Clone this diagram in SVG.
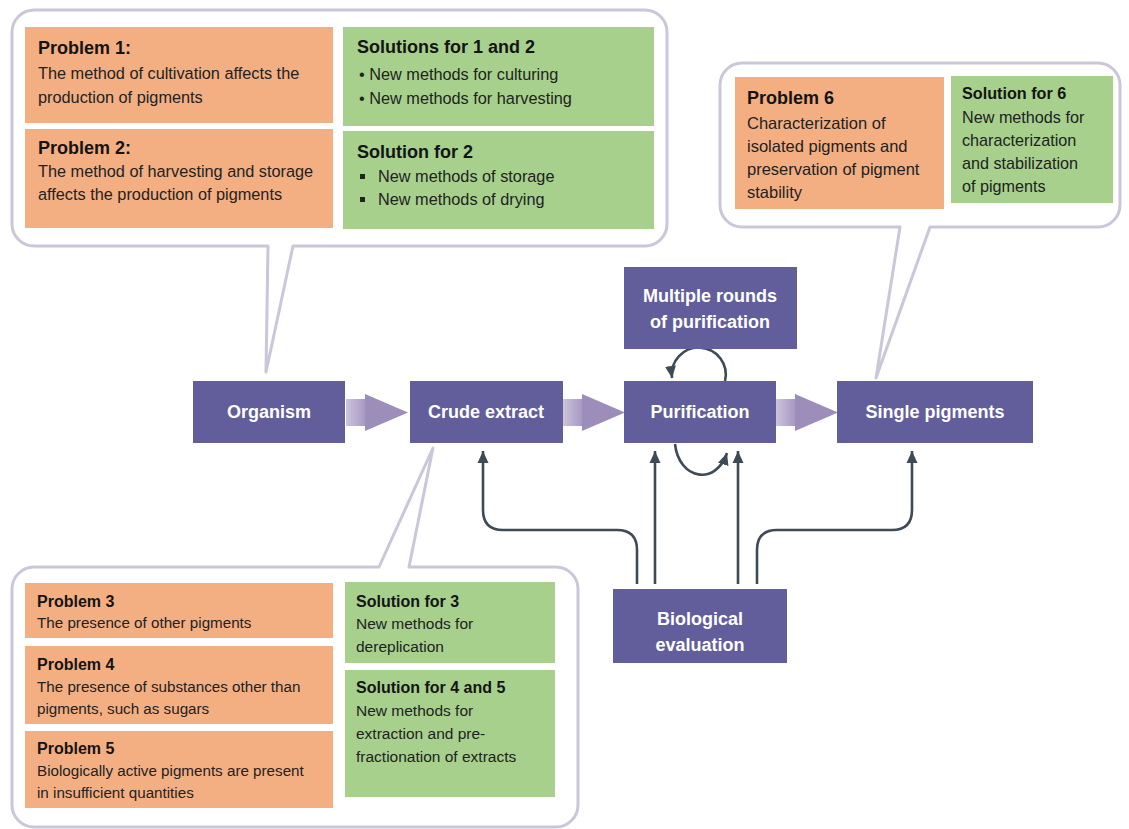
<svg xmlns="http://www.w3.org/2000/svg" width="1129" height="829" viewBox="0 0 1129 829">
  <style>
    .bubble { fill: #ffffff; stroke: #c9c7da; stroke-width: 3; stroke-linejoin: round; }
    .prob { fill: #f3af82; }
    .sol { fill: #a7d08d; }
    .node { fill: #625e9b; }
    .nodetxt { font-family: "Liberation Sans", Arial, sans-serif; font-weight: bold; font-size: 18px; fill: #ffffff; text-anchor: middle; }
    .ttl { font-family: "Liberation Sans", Arial, sans-serif; font-weight: bold; fill: #141414; }
    .body { font-family: "Liberation Sans", Arial, sans-serif; fill: #222222; }
    .link { fill: none; stroke: #3e4a56; stroke-width: 2.6; }
  </style>
  <defs>
    <linearGradient id="shaft" x1="0" y1="0" x2="1" y2="0">
      <stop offset="0" stop-color="#cdc4dc"/>
      <stop offset="1" stop-color="#a395c0"/>
    </linearGradient>
    <marker id="head" markerUnits="userSpaceOnUse" markerWidth="14" markerHeight="14" viewBox="0 0 14 14" refX="12" refY="7" orient="auto">
      <path d="M0,1.5 L12,7 L0,12.5 Z" fill="#3e4a56"/>
    </marker>
    <!-- broad flow arrow: faded shaft plus solid head, 62 units long -->
    <g id="fat">
      <rect x="0" y="19" width="21" height="27" fill="url(#shaft)"/>
      <path d="M19,14 L62,32.5 L19,51 Z" fill="#9d8dba"/>
    </g>
  </defs>

  <rect width="1129" height="829" fill="#ffffff"/>

  <!-- speech bubbles -->
  <path class="bubble" d="M34,10 H645 A22,22 0 0 1 667,32 V224 A22,22 0 0 1 645,246 H293 L266,372 L268,246 H34 A22,22 0 0 1 12,224 V32 A22,22 0 0 1 34,10 Z"/>
  <path class="bubble" d="M742,63 H1098 A22,22 0 0 1 1120,85 V205 A22,22 0 0 1 1098,227 H930 L876,378 L900,227 H742 A22,22 0 0 1 720,205 V85 A22,22 0 0 1 742,63 Z"/>
  <path class="bubble" d="M34,567 H379 L433,448 L409,567 H556 A22,22 0 0 1 578,589 V805 A22,22 0 0 1 556,827 H34 A22,22 0 0 1 12,805 V589 A22,22 0 0 1 34,567 Z"/>

  <!-- cultivation / harvesting panel -->
  <g id="problem1">
    <rect class="prob" x="25" y="27" width="308" height="96"/>
    <text class="ttl" x="38" y="54" font-size="18">Problem 1:</text>
    <text class="body" x="38" y="79" font-size="16.3">The method of cultivation affects the</text>
    <text class="body" x="38" y="103" font-size="16.3">production of pigments</text>
  </g>
  <g id="problem2">
    <rect class="prob" x="25" y="129" width="308" height="99"/>
    <text class="ttl" x="38" y="154" font-size="18">Problem 2:</text>
    <text class="body" x="38" y="177" font-size="16.3">The method of harvesting and storage</text>
    <text class="body" x="38" y="200" font-size="16.3">affects the production of pigments</text>
  </g>
  <g id="solution12">
    <rect class="sol" x="343" y="27" width="311" height="99"/>
    <text class="ttl" x="357" y="53" font-size="18">Solutions for 1 and 2</text>
    <text class="body" x="359" y="80" font-size="16.3">• New methods for culturing</text>
    <text class="body" x="359" y="104" font-size="16.3">• New methods for harvesting</text>
  </g>
  <g id="solution2">
    <rect class="sol" x="343" y="131" width="311" height="98"/>
    <text class="ttl" x="357" y="158" font-size="18">Solution for 2</text>
    <rect x="360" y="174" width="5" height="5" fill="#222222"/>
    <text class="body" x="378" y="182" font-size="16.3">New methods of storage</text>
    <rect x="360" y="197" width="5" height="5" fill="#222222"/>
    <text class="body" x="378" y="205" font-size="16.3">New methods of  drying</text>
  </g>

  <!-- characterization panel -->
  <g id="problem6">
    <rect class="prob" x="735" y="77" width="209" height="132"/>
    <text class="ttl" x="747" y="104" font-size="18">Problem 6</text>
    <text class="body" x="747" y="129" font-size="16.5">Characterization of</text>
    <text class="body" x="747" y="152" font-size="16.5">isolated pigments and</text>
    <text class="body" x="747" y="175" font-size="16.5">preservation of pigment</text>
    <text class="body" x="747" y="198" font-size="16.5">stability</text>
  </g>
  <g id="solution6">
    <rect class="sol" x="951" y="76" width="162" height="127"/>
    <text class="ttl" x="962" y="99" font-size="16.2">Solution for 6</text>
    <text class="body" x="962" y="123" font-size="16.2">New methods for</text>
    <text class="body" x="962" y="146" font-size="16.2">characterization</text>
    <text class="body" x="962" y="169" font-size="16.2">and stabilization</text>
    <text class="body" x="962" y="192" font-size="16.2">of pigments</text>
  </g>

  <!-- extract panel -->
  <g id="problem3">
    <rect class="prob" x="25" y="583" width="308" height="55"/>
    <text class="ttl" x="37" y="607" font-size="16">Problem 3</text>
    <text class="body" x="37" y="628" font-size="15.2">The presence of other pigments</text>
  </g>
  <g id="problem4">
    <rect class="prob" x="25" y="646" width="308" height="78"/>
    <text class="ttl" x="37" y="670" font-size="16">Problem 4</text>
    <text class="body" x="37" y="692" font-size="15.2">The presence of substances other than</text>
    <text class="body" x="37" y="714" font-size="15.2">pigments, such as sugars</text>
  </g>
  <g id="problem5">
    <rect class="prob" x="25" y="731" width="308" height="77"/>
    <text class="ttl" x="37" y="754" font-size="16">Problem 5</text>
    <text class="body" x="37" y="776" font-size="15.2">Biologically active pigments are present</text>
    <text class="body" x="37" y="798" font-size="15.2">in insufficient quantities</text>
  </g>
  <g id="solution3">
    <rect class="sol" x="345" y="582" width="210" height="81"/>
    <text class="ttl" x="356" y="607" font-size="16">Solution for 3</text>
    <text class="body" x="356" y="629" font-size="15.5">New methods for</text>
    <text class="body" x="356" y="652" font-size="15.5">dereplication</text>
  </g>
  <g id="solution45">
    <rect class="sol" x="345" y="670" width="210" height="127"/>
    <text class="ttl" x="356" y="693" font-size="16">Solution for 4 and 5</text>
    <text class="body" x="356" y="716" font-size="15.5">New methods for</text>
    <text class="body" x="356" y="739" font-size="15.5">extraction and pre-</text>
    <text class="body" x="356" y="762" font-size="15.5">fractionation of extracts</text>
  </g>

  <!-- process flow -->
  <g id="connectors">
    <use href="#fat" x="346" y="380"/>
    <use href="#fat" x="563" y="380"/>
    <use href="#fat" x="776" y="380"/>
    <path class="link" d="M725,381 A27,27 0 1 0 672,378" marker-end="url(#head)"/>
    <path class="link" d="M675,444 C679,480 716,486 727,453" marker-end="url(#head)"/>
    <path class="link" d="M637,584 V550 Q637,530 617,530 H503 Q483,530 483,510 V451" marker-end="url(#head)"/>
    <path class="link" d="M655,584 V451" marker-end="url(#head)"/>
    <path class="link" d="M738,584 V451" marker-end="url(#head)"/>
    <path class="link" d="M757,584 V550 Q757,530 777,530 H892 Q912,530 912,510 V451" marker-end="url(#head)"/>
  </g>

  <g id="organism">
    <rect class="node" x="193" y="381" width="152" height="62"/>
    <text class="nodetxt" x="269" y="418">Organism</text>
  </g>
  <g id="crude-extract">
    <rect class="node" x="410" y="381" width="153" height="62"/>
    <text class="nodetxt" x="486" y="418">Crude extract</text>
  </g>
  <g id="purification">
    <rect class="node" x="624" y="381" width="152" height="62"/>
    <text class="nodetxt" x="700" y="418">Purification</text>
  </g>
  <g id="single-pigments">
    <rect class="node" x="837" y="381" width="196" height="62"/>
    <text class="nodetxt" x="935" y="418">Single pigments</text>
  </g>
  <g id="multiple-rounds">
    <rect class="node" x="624" y="267" width="173" height="82"/>
    <text class="nodetxt" x="710" y="302">Multiple rounds</text>
    <text class="nodetxt" x="710" y="328">of purification</text>
  </g>
  <g id="biological-evaluation">
    <rect class="node" x="613" y="589" width="174" height="74"/>
    <text class="nodetxt" x="700" y="625">Biological</text>
    <text class="nodetxt" x="700" y="651">evaluation</text>
  </g>
</svg>
